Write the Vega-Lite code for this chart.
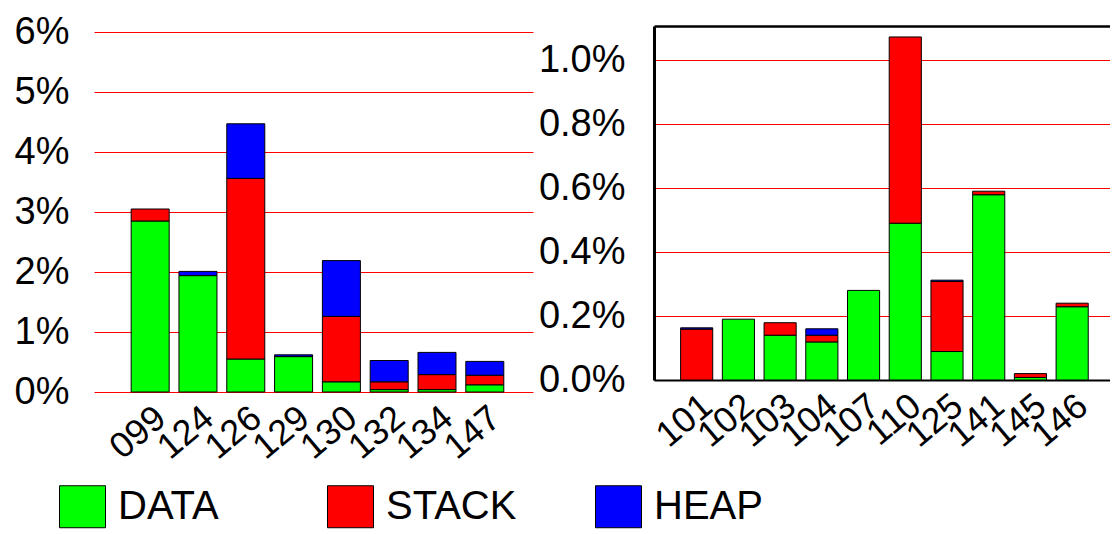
{
  "$schema": "https://vega.github.io/schema/vega-lite/v6.json",
  "background": "white",
  "padding": {"left": 14, "top": 12, "right": 0, "bottom": 4},
  "config": {
    "font": "Liberation Sans",
    "view": {"stroke": null},
    "concat": {"spacing": 5},
    "axis": {
      "labelFont": "Liberation Sans",
      "labelColor": "black",
      "labelFontSize": 38,
      "ticks": false,
      "title": null,
      "gridOpacity": 1
    }
  },
  "datasets": {
    "left": [
      {"bench": "099", "type": "DATA", "pct": 2.85},
      {"bench": "099", "type": "STACK", "pct": 0.20},
      {"bench": "124", "type": "DATA", "pct": 1.94},
      {"bench": "124", "type": "HEAP", "pct": 0.07},
      {"bench": "126", "type": "DATA", "pct": 0.55},
      {"bench": "126", "type": "STACK", "pct": 3.01},
      {"bench": "126", "type": "HEAP", "pct": 0.91},
      {"bench": "129", "type": "DATA", "pct": 0.59},
      {"bench": "129", "type": "HEAP", "pct": 0.03},
      {"bench": "130", "type": "DATA", "pct": 0.17},
      {"bench": "130", "type": "STACK", "pct": 1.09},
      {"bench": "130", "type": "HEAP", "pct": 0.93},
      {"bench": "132", "type": "DATA", "pct": 0.04},
      {"bench": "132", "type": "STACK", "pct": 0.13},
      {"bench": "132", "type": "HEAP", "pct": 0.355},
      {"bench": "134", "type": "DATA", "pct": 0.04},
      {"bench": "134", "type": "STACK", "pct": 0.25},
      {"bench": "134", "type": "HEAP", "pct": 0.37},
      {"bench": "147", "type": "DATA", "pct": 0.12},
      {"bench": "147", "type": "STACK", "pct": 0.16},
      {"bench": "147", "type": "HEAP", "pct": 0.23}
    ],
    "right": [
      {"bench": "101", "type": "STACK", "pct": 0.159},
      {"bench": "101", "type": "HEAP", "pct": 0.004},
      {"bench": "102", "type": "DATA", "pct": 0.19},
      {"bench": "103", "type": "DATA", "pct": 0.14},
      {"bench": "103", "type": "STACK", "pct": 0.039},
      {"bench": "104", "type": "DATA", "pct": 0.119},
      {"bench": "104", "type": "STACK", "pct": 0.021},
      {"bench": "104", "type": "HEAP", "pct": 0.02},
      {"bench": "107", "type": "DATA", "pct": 0.28},
      {"bench": "110", "type": "DATA", "pct": 0.49},
      {"bench": "110", "type": "STACK", "pct": 0.582},
      {"bench": "125", "type": "DATA", "pct": 0.089},
      {"bench": "125", "type": "STACK", "pct": 0.219},
      {"bench": "125", "type": "HEAP", "pct": 0.004},
      {"bench": "141", "type": "DATA", "pct": 0.579},
      {"bench": "141", "type": "STACK", "pct": 0.011},
      {"bench": "145", "type": "DATA", "pct": 0.008},
      {"bench": "145", "type": "STACK", "pct": 0.012},
      {"bench": "146", "type": "DATA", "pct": 0.229},
      {"bench": "146", "type": "STACK", "pct": 0.011}
    ]
  },
  "hconcat": [
    {
      "data": {"name": "left"},
      "width": 439,
      "height": 366,
      "transform": [
        {"calculate": "indexof(['DATA','STACK','HEAP'], datum.type)", "as": "ord"}
      ],
      "mark": {"type": "bar", "stroke": "black", "strokeWidth": 1},
      "encoding": {
        "x": {
          "field": "bench",
          "type": "nominal",
          "sort": null,
          "scale": {"paddingInner": 0.205, "paddingOuter": 0.694, "align": 0.56},
          "axis": {"domain": false, "labelAngle": -40, "labelFontSize": 36, "labelPadding": 8}
        },
        "y": {
          "field": "pct",
          "type": "quantitative",
          "stack": "zero",
          "scale": {"domain": [0, 6.1], "nice": false},
          "axis": {
            "values": [0, 1, 2, 3, 4, 5, 6],
            "labelExpr": "datum.value + '%'",
            "domain": false,
            "grid": true,
            "gridColor": "#ff0000",
            "gridWidth": 1,
            "labelPadding": 25
          }
        },
        "color": {
          "field": "type",
          "type": "nominal",
          "scale": {"domain": ["DATA", "STACK", "HEAP"], "range": ["#00ff00", "#ff0000", "#0000ff"]},
          "legend": {
            "orient": "none",
            "legendX": -35,
            "legendY": 457,
            "direction": "horizontal",
            "columns": 3,
            "gridAlign": "all",
            "columnPadding": 76,
            "title": null,
            "symbolType": "M-1,-0.913H1V0.913H-1Z",
            "symbolSize": 2116,
            "symbolStrokeColor": "black",
            "symbolStrokeWidth": 1,
            "symbolOpacity": 1,
            "labelFont": "Liberation Sans",
            "labelFontSize": 40,
            "labelColor": "black",
            "labelOffset": 12,
            "labelLimit": 0
          }
        },
        "order": {"field": "ord"}
      }
    },
    {
      "data": {"name": "right"},
      "width": 456,
      "height": 354,
      "transform": [
        {"calculate": "indexof(['DATA','STACK','HEAP'], datum.type)", "as": "ord"}
      ],
      "mark": {"type": "bar", "stroke": "black", "strokeWidth": 1},
      "encoding": {
        "x": {
          "field": "bench",
          "type": "nominal",
          "sort": null,
          "scale": {"paddingInner": 0.23, "paddingOuter": 0.58, "align": 0.55},
          "axis": {
            "domain": true,
            "domainColor": "black",
            "domainWidth": 2,
            "labelAngle": -40,
            "labelFontSize": 36,
            "labelPadding": 8
          }
        },
        "y": {
          "field": "pct",
          "type": "quantitative",
          "stack": "zero",
          "scale": {"domain": [0, 1.10625], "nice": false},
          "axis": {
            "values": [0, 0.2, 0.4, 0.6, 0.8, 1.0, 1.10625],
            "labelExpr": "datum.value > 1.05 ? '' : format(datum.value, '.1f') + '%'",
            "domain": true,
            "domainColor": "black",
            "domainWidth": 3,
            "grid": true,
            "gridColor": {"condition": {"test": "datum.value > 1.05", "value": "black"}, "value": "#ff0000"},
            "gridWidth": {"condition": {"test": "datum.value > 1.05", "value": 2.5}, "value": 1},
            "labelPadding": 29
          }
        },
        "color": {
          "field": "type",
          "type": "nominal",
          "scale": {"domain": ["DATA", "STACK", "HEAP"], "range": ["#00ff00", "#ff0000", "#0000ff"]},
          "legend": null
        },
        "order": {"field": "ord"}
      }
    }
  ]
}
